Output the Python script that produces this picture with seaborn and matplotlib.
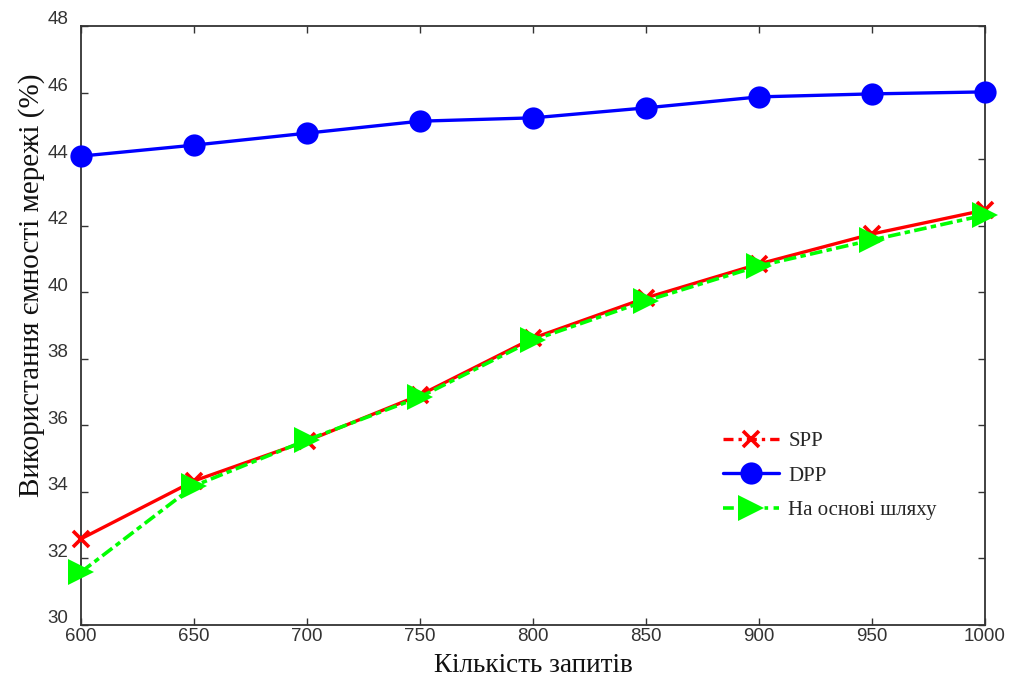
import matplotlib
matplotlib.use("Agg")
import matplotlib.pyplot as plt
import matplotlib.transforms as mtransforms
from matplotlib.lines import Line2D
import seaborn as sns
import pandas as pd

requests = [600, 650, 700, 750, 800, 850, 900, 950, 1000]
spp = [32.59, 34.33, 35.53, 36.91, 38.62, 39.83, 40.85, 41.75, 42.47]
dpp = [44.09, 44.42, 44.78, 45.14, 45.24, 45.54, 45.87, 45.96, 46.02]
path_based = [31.59, 34.18, 35.56, 36.85, 38.56, 39.74, 40.79, 41.57, 42.32]

labels = ["SPP", "DPP", "На основі шляху"]
y_ticks = [30, 32, 34, 36, 38, 40, 42, 44, 46, 48]
x_ticks = requests

df = pd.DataFrame({"x": requests, "spp": spp, "dpp": dpp, "path": path_based})

sns.set_style("white")
plt.rcParams["font.family"] = ["Liberation Sans", "DejaVu Sans"]
serif = ["Liberation Serif", "DejaVu Serif"]

RED, BLUE, GREEN = "#ff0000", "#0000ff", "#00ff00"
dashdot = (0, (3.5, 1.2, 1.5, 1.2))

fig = plt.figure(figsize=(10.14, 6.84), dpi=100)
ax = fig.add_axes([81 / 1014, 1 - 625 / 684, 904 / 1014, 599 / 684])

sns.lineplot(data=df, x="x", y="spp", ax=ax, color=RED, linewidth=2.4,
             marker="x", markersize=12, markeredgewidth=2.6, markeredgecolor=RED,
             zorder=3, clip_on=False)
sns.lineplot(data=df, x="x", y="dpp", ax=ax, color=BLUE, linewidth=2.4,
             marker="o", markersize=16, markeredgewidth=0, markeredgecolor=BLUE,
             zorder=3, clip_on=False)
sns.lineplot(data=df, x="x", y="path", ax=ax, color=GREEN, linewidth=2.6,
             marker=">", markersize=19, markeredgewidth=0, markeredgecolor=GREEN,
             zorder=4, clip_on=False, linestyle=dashdot)

ax.set_xlim(600, 1000)
ax.set_ylim(30, 48)
ax.set_xticks(x_ticks)
ax.set_yticks(y_ticks)
ax.tick_params(direction="in", length=5, width=1, colors="#333333",
               labelsize=13.5, top=True, right=True, left=True, bottom=True,
               labelcolor="#333333", pad=2)
ax.tick_params(axis="y", pad=9)
for sp in ax.spines.values():
    sp.set_color("#333333")
    sp.set_linewidth(1.3)

ax.set_xlabel("Кількість запитів", fontsize=19.5, family=serif,
              color="#111111", labelpad=6)
ax.set_ylabel("Використання ємності мережі (%)", fontsize=21,
              family=serif, color="#111111")
ax.yaxis.set_label_coords(-0.040, 0.568)

handles = [
    Line2D([], [], color=RED, linewidth=2.4, linestyle=(0, (3, 1.5, 1, 1.5)),
           marker="x", markersize=12, markeredgewidth=2.6),
    Line2D([], [], color=BLUE, linewidth=2.4, marker="o", markersize=16,
           markeredgewidth=0),
    Line2D([], [], color=GREEN, linewidth=2.6, linestyle=(0, (3, 1.5, 1, 1.5)),
           marker=">", markersize=19, markeredgewidth=0),
]
ax.legend(handles, labels, loc="upper left", bbox_to_anchor=(0.71, 0.323),
          frameon=False, prop={"family": serif, "size": 15},
          handlelength=2.7, handletextpad=0.45, labelspacing=0.72, borderpad=0,
          borderaxespad=0)

# y tick labels sit slightly above their ticks
shift = mtransforms.ScaledTranslation(0, 8 / 100, fig.dpi_scale_trans)
for lab in ax.yaxis.get_majorticklabels():
    lab.set_transform(lab.get_transform() + shift)

fig.savefig("out.png", dpi=100)
